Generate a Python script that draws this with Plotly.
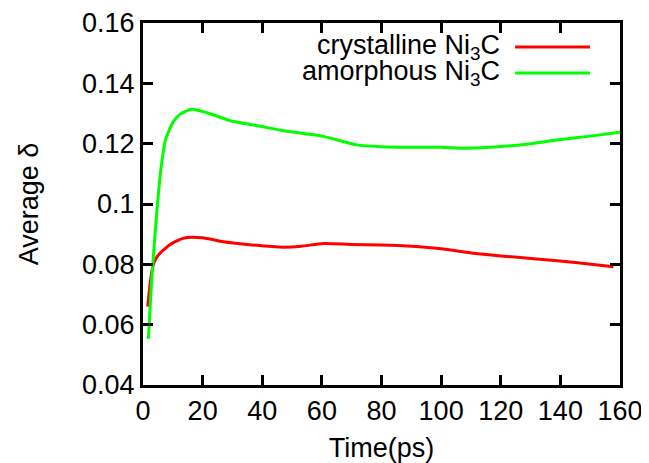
import plotly.graph_objects as go

# Data
time_cryst = [1.6, 2.5, 3.5, 4.5, 5.7, 6.8, 9.0, 11.3, 14.7, 20, 27, 35, 47, 53, 60.5, 70, 80, 88.5, 100, 110.8, 120, 133, 145, 157.8]
delta_cryst = [0.066, 0.0745, 0.0800, 0.0822, 0.0837, 0.0847, 0.0865, 0.0878, 0.0889, 0.0888, 0.0875, 0.0866, 0.0857, 0.0860, 0.0869, 0.0866, 0.0864, 0.0861, 0.0852, 0.0837, 0.0828, 0.0817, 0.0806, 0.0792]

time_amor = [1.8, 2.9, 4.6, 6.0, 7.6, 10.2, 12.5, 16.3, 22, 29.2, 38, 47.1, 60, 71.7, 80, 88.5, 100, 107.5, 115, 122, 130, 138.8, 150, 160]
delta_amor = [0.0553, 0.0748, 0.0969, 0.1115, 0.1215, 0.1273, 0.1298, 0.1314, 0.1301, 0.1276, 0.1260, 0.1243, 0.1225, 0.1196, 0.1190, 0.1188, 0.1188, 0.1185, 0.1187, 0.1192, 0.1200, 0.1212, 0.1225, 0.1238]

series_names = ["crystalline Ni<sub>3</sub>C", "amorphous Ni<sub>3</sub>C"]
series_colors = ["#ff0000", "#00ff00"]

x_ticks = [0, 20, 40, 60, 80, 100, 120, 140, 160]
y_ticks = [0.04, 0.06, 0.08, 0.1, 0.12, 0.14, 0.16]
y_tick_labels = ["0.04", "0.06", "0.08", "0.1", "0.12", "0.14", "0.16"]

FONT = "Liberation Sans, Arial, sans-serif"
FS = 27

fig = go.Figure()
fig.add_trace(go.Scatter(x=time_cryst, y=delta_cryst, mode="lines", name=series_names[0],
                         line=dict(color=series_colors[0], width=3, shape="spline", smoothing=0.6),
                         showlegend=False))
fig.add_trace(go.Scatter(x=time_amor, y=delta_amor, mode="lines", name=series_names[1],
                         line=dict(color=series_colors[1], width=3, shape="spline", smoothing=0.6),
                         showlegend=False))

# gnuplot-style legend: text on the left, line sample on the right
legend_y = [0.934, 0.862]
for name, color, yy in zip(series_names, series_colors, legend_y):
    fig.add_annotation(xref="paper", yref="paper", x=0.753, y=yy, text=name,
                       showarrow=False, xanchor="right", yanchor="middle",
                       font=dict(family=FONT, size=FS, color="black"))
    fig.add_shape(type="line", xref="paper", yref="paper", x0=0.780, x1=0.937, y0=yy, y1=yy,
                  line=dict(color=color, width=3))

axis_common = dict(showline=True, linecolor="black", linewidth=3, mirror="ticks",
                   ticks="inside", ticklen=10, tickwidth=3, tickcolor="black",
                   showgrid=False, zeroline=False, ticklabeloverflow="allow",
                   tickfont=dict(family=FONT, size=FS, color="black"))

fig.update_xaxes(range=[0, 160], tickvals=x_ticks, ticktext=[str(v) for v in x_ticks],
                 title=dict(text="Time(ps)", font=dict(family=FONT, size=FS, color="black"), standoff=20),
                 **axis_common)
fig.update_yaxes(range=[0.04, 0.16], tickvals=y_ticks, ticktext=y_tick_labels,
                 title=dict(text="Average δ", font=dict(family=FONT, size=FS, color="black"), standoff=36),
                 **axis_common)

# page body has an 8px margin on the top/left, so the figure is 8px smaller than the window
fig.update_layout(width=641, height=455, margin=dict(l=135, r=29, t=15, b=78, autoexpand=False),
                  paper_bgcolor="white", plot_bgcolor="white",
                  font=dict(family=FONT, size=FS, color="black"))

fig.write_html("out.html")
